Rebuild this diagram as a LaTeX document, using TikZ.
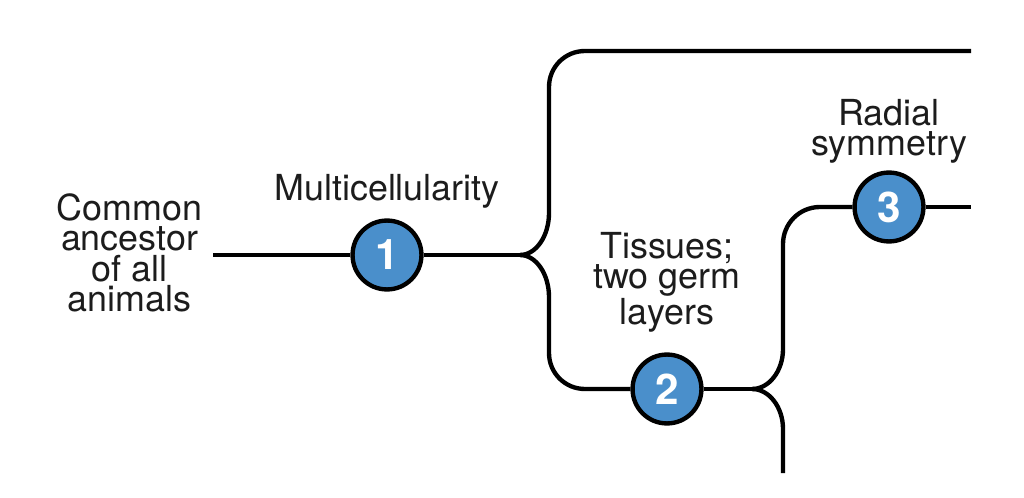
\documentclass[tikz,border=0pt]{standalone}
\usepackage{fontspec}
\setmainfont{TeX Gyre Heros}
\usetikzlibrary{positioning}
\definecolor{traitblue}{RGB}{74,143,203}
\definecolor{inkgray}{RGB}{28,28,28}
\tikzset{
  branch/.style={line width=3.1pt, draw=black},
  trait/.style={circle, draw=black, line width=3.1pt, fill=traitblue, minimum size=49pt,
    inner sep=0pt, text=white, font=\fontsize{30}{30}\selectfont\bfseries},
  txt/.style={align=center, inner sep=0pt, text=inkgray, font=\fontsize{25.5}{21.6}\selectfont},
}
\begin{document}
\begin{tikzpicture}[x=0.025cm, y=-0.025cm]
  \useasboundingbox (0,0) rectangle (1024,498);

  \node[trait] (n1) at (387,255) {1};
  \node[trait] (n2) at (667,389) {2};
  \node[trait] (n3) at (889,207) {3};

  \node[txt, inner xsep=7.8pt] (anc) at (129.5,253) {Common\\ancestor\\of all\\animals};
  \node[txt, above=0.24cm of n1] (lab1) {Multicellularity};
  \node[txt, above=0.5cm of n2] (lab2) {Tissues;\\two germ\\layers};
  \node[txt, above=0.16cm of n3] (lab3) {Radial\\symmetry};

  \coordinate (j1) at (520,255);
  \coordinate (j2) at (752,389);
  \coordinate (top) at (971,51);
  \coordinate (end3) at (971,207);
  \coordinate (bot) at (783,473);

  \draw[branch] (anc.east |- n1) -- (n1);
  \draw[branch] (n1) -- (j1);
  \draw[branch] (j1) .. controls (536,255) and (549,236) .. (549,213)
    -- (549,87) .. controls (549,67) and (565,51) .. (585,51) -- (top);
  \draw[branch] (j1) .. controls (536,255) and (549,274) .. (549,297)
    -- (549,353) .. controls (549,373) and (565,389) .. (585,389) -- (n2);

  \draw[branch] (n2) -- (j2);
  \draw[branch] (j2) .. controls (769,389) and (783,371) .. (783,349)
    -- (783,244) .. controls (783,224) and (799,207) .. (820,207) -- (n3);
  \draw[branch] (n3) -- (end3);
  \draw[branch] (j2) .. controls (769,389) and (783,407) .. (783,429) -- (bot);
\end{tikzpicture}
\end{document}
